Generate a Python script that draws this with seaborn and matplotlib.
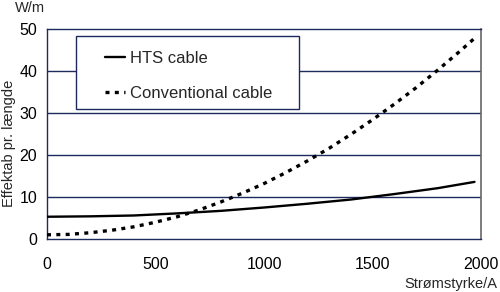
import numpy as np
import pandas as pd
import matplotlib
matplotlib.use("Agg")
import matplotlib.pyplot as plt
from matplotlib.ticker import MultipleLocator
from matplotlib.patches import Rectangle
import seaborn as sns

# Data
current_hts = [0, 200, 400, 600, 800, 1000, 1200, 1400, 1600, 1800, 1970]
loss_hts = [5.3, 5.4, 5.6, 6.1, 6.7, 7.5, 8.4, 9.4, 10.7, 12.1, 13.6]
current_conv = [0, 100, 200, 300, 400, 500, 600, 700, 800, 900, 1000, 1100,
                1200, 1300, 1400, 1500, 1600, 1700, 1800, 1900, 1970]
loss_conv = [1.0, 1.1, 1.5, 2.1, 2.9, 4.0, 5.3, 6.9, 8.8, 10.9, 13.2, 15.8,
             18.6, 21.6, 24.9, 28.4, 32.1, 36.0, 40.2, 44.6, 47.8]
series_names = ["HTS cable", "Conventional cable"]
x_ticks = [0, 500, 1000, 1500, 2000]
y_ticks = [0, 10, 20, 30, 40, 50]

sns.set_style("white")
plt.rcParams['font.family'] = ['Liberation Sans', 'DejaVu Sans']

df = pd.concat([
    pd.DataFrame({"I": current_hts, "P": loss_hts, "cable": series_names[0]}),
    pd.DataFrame({"I": current_conv, "P": loss_conv, "cable": series_names[1]}),
])

fig = plt.figure(figsize=(5.0, 2.92), dpi=100)
ax = fig.add_axes([0.094, 0.1815, 0.868, 0.719])

navy = "#1c2a5c"
for yv in y_ticks[1:-1]:
    ax.axhline(yv, color=navy, lw=1.0, zorder=1)

sns.lineplot(data=df[df.cable == series_names[0]], x="I", y="P", ax=ax,
             color="black", lw=1.7, label=series_names[0], zorder=3)
sns.lineplot(data=df[df.cable == series_names[1]], x="I", y="P", ax=ax,
             color="black", lw=2.4, linestyle=(0, (1.2, 1.6)),
             label=series_names[1], zorder=3)

ax.set_xlim(0, 2000)
ax.set_ylim(0, 50)
ax.set_xticks(x_ticks)
ax.set_yticks(y_ticks)
ax.xaxis.set_minor_locator(MultipleLocator(50))
ax.yaxis.set_minor_locator(MultipleLocator(2))
ax.tick_params(axis='both', which='both', direction='in', colors='black',
               labelsize=11.5)
ax.tick_params(axis='both', which='major', length=5, width=1.0)
ax.tick_params(axis='both', which='minor', length=3, width=0.8)
ax.tick_params(axis='x', which='major', pad=13)
ax.tick_params(axis='y', which='major', pad=7)
for side in ["left", "bottom", "top"]:
    ax.spines[side].set_color(navy)
    ax.spines[side].set_linewidth(1.0)
ax.spines["right"].set_color("#666666")
ax.spines["right"].set_linewidth(1.2)

ax.set_xlabel("")
ax.set_ylabel("")
fig.text(0.018, 1 - 143.5 / 292, "Effektab pr. længde", rotation=90,
         fontsize=10.5, va="center", ha="center")
fig.text(0.03, 1 - 8 / 292, "W/m", fontsize=10.5, va="center", ha="left")
fig.text(0.995, 1 - 284 / 292, "Strømstyrke/A", fontsize=10.5,
         va="center", ha="right")

# legend frame box
ax.add_patch(Rectangle((0.0668, 0.619), 0.5138, 0.3477, transform=ax.transAxes,
                       facecolor="white", edgecolor=navy, lw=1.0, zorder=4))

leg = ax.legend(loc="upper left", bbox_to_anchor=(0.1336, 0.895),
                frameon=False, fontsize=12,
                handlelength=1.2, handletextpad=0.3, borderpad=0,
                labelspacing=1.2, borderaxespad=0)
leg.set_zorder(5)

fig.savefig("out.png", dpi=100)
